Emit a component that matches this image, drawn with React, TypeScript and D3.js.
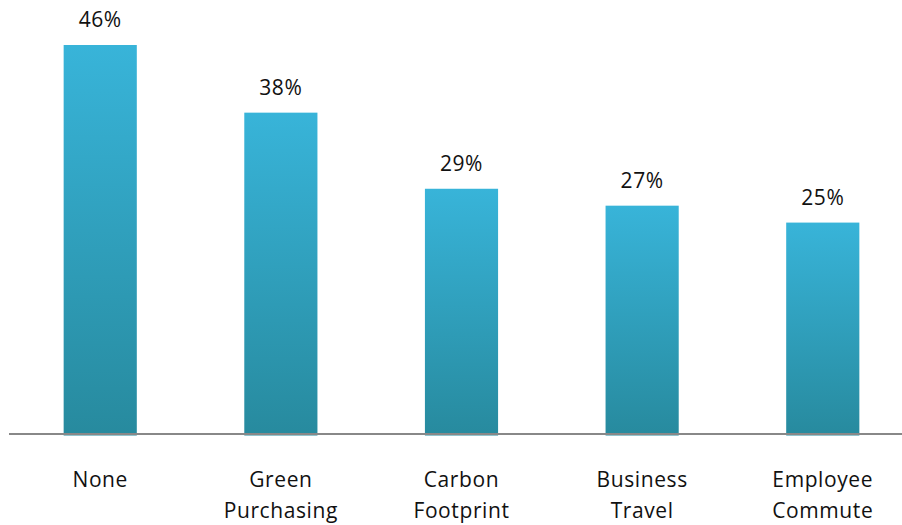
import React from "react";
import * as d3 from "d3";

const categories: string[][] = [["None"], ["Green", "Purchasing"], ["Carbon", "Footprint"], ["Business", "Travel"], ["Employee", "Commute"]];
const values: number[] = [46, 38, 29, 27, 25];
const valueLabels: string[] = ["46%", "38%", "29%", "27%", "25%"];

export default function App() {
  const W = 902, H = 525;
  const baseline = 434;
  const x = d3.scaleBand<number>().domain(d3.range(values.length)).range([10, 913]).paddingInner(0.595).paddingOuter(0.297);
  const y = d3.scaleLinear().domain([0, 46]).range([baseline, 45]);
  const font = "'Open Sans', sans-serif";
  return (
    <svg width={W} height={H} style={{ position: "absolute", left: 0, top: 0 }}>
      <defs>
        <linearGradient id="barGrad" x1="0" y1="0" x2="0" y2="1">
          <stop offset="0" stopColor="#38b4d9" />
          <stop offset="1" stopColor="#278a9e" />
        </linearGradient>
      </defs>
      {values.map((v, i) => (
        <g key={i}>
          <rect x={x(i)} y={y(v)} width={x.bandwidth()} height={baseline + 1.5 - y(v)} fill="url(#barGrad)" />
          <text x={(x(i) as number) + x.bandwidth() / 2} y={y(v) - 18} textAnchor="middle" fontFamily={font} fontSize={21} letterSpacing={0.6} fill="#111">{valueLabels[i]}</text>
          {categories[i].map((line, j) => (
            <text key={j} x={(x(i) as number) + x.bandwidth() / 2} y={487 + j * 31} textAnchor="middle" fontFamily={font} fontSize={21} letterSpacing={0.6} fill="#111">{line}</text>
          ))}
        </g>
      ))}
      <line x1={9} x2={902} y1={baseline} y2={baseline} stroke="#888" strokeWidth={2} />
    </svg>
  );
}
